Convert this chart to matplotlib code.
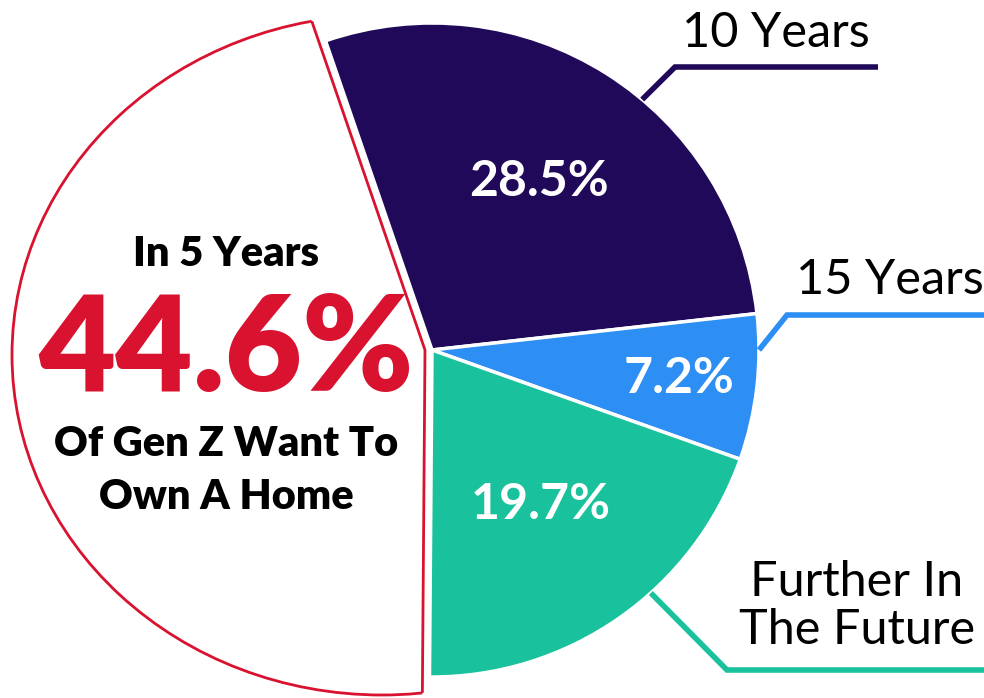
import numpy as np
import matplotlib.pyplot as plt
from matplotlib.patches import Ellipse

labels = ["10 Years", "15 Years", "Further In\nThe Future", "In 5 Years"]
shares = [28.5, 7.2, 19.7, 44.6]
pct_text = ["28.5%", "7.2%", "19.7%", "44.6%"]
colors = ["#21095a", "#2d8ef3", "#19c29c", "white"]
red = "#d8122f"

plt.rcParams['font.family'] = ['Lato', 'DejaVu Sans']

fig = plt.figure(figsize=(9.84, 6.98), dpi=100)
ax = fig.add_axes([0, 0, 1, 1])

# pixel-like coordinates, y up
cx, cy, r = 432, 348, 327
wedges, _ = ax.pie(shares, colors=colors, startangle=109, counterclock=False,
                   center=(cx, cy), radius=r,
                   wedgeprops=dict(edgecolor="white", linewidth=2.5))
ax.set_xlim(0, 984)
ax.set_ylim(0, 698)
ax.set_aspect('auto')
ax.axis('off')

# the "5 years" slice is pulled out and drawn bigger, with a red outline
w5 = wedges[3]
w5.set_center((cx - 7, cy))
w5.set_radius(800)
w5.set_edgecolor(red)
w5.set_linewidth(2)
w5.set_zorder(1)
outline = Ellipse((382, 343), 740, 680, fill=False, edgecolor=red, lw=2, zorder=2)
ax.add_patch(outline)
w5.set_clip_on(True)
w5.set_clip_path(outline)
outline.set_clip_path(w5)

# percentages inside coloured slices
pct_r = [0.61, 0.76, 0.577]
for w, txt, pr in zip(wedges[:3], pct_text[:3], pct_r):
    mid = np.deg2rad((w.theta1 + w.theta2) / 2)
    ax.text(cx + pr * r * np.cos(mid), cy + pr * r * np.sin(mid), txt,
            color="white", fontsize=36, fontweight="bold", ha="center", va="center")

# text in the big white slice
ax.text(226, 444, labels[3], fontsize=30, fontweight="heavy", ha="center", va="center")
ax.text(226, 346, pct_text[3], fontsize=96, fontweight="heavy", color=red,
        ha="center", va="center")
ax.text(226, 254, "Of Gen Z Want To", fontsize=30, fontweight="heavy",
        ha="center", va="center")
ax.text(226, 201, "Own A Home", fontsize=30, fontweight="heavy",
        ha="center", va="center")

# outside labels with leader lines
anchors = [50, 0, -48]
elbows = [(675, 631), (787, 383), (727, 28)]
ends = [878, 984, 984]
text_pos = [(776, 665), (890, 418), (857, 92)]
for i in range(3):
    a = np.deg2rad(anchors[i])
    x0, y0 = cx + r * np.cos(a), cy + r * np.sin(a)
    ex, ey = elbows[i]
    ax.plot([x0, ex, ends[i]], [y0, ey, ey], color=colors[i], lw=4,
            solid_joinstyle="miter", solid_capstyle="butt")
    ax.text(text_pos[i][0], text_pos[i][1], labels[i], fontsize=35,
            ha="center", va="center", linespacing=1.1)

fig.savefig("out.png", dpi=100)
